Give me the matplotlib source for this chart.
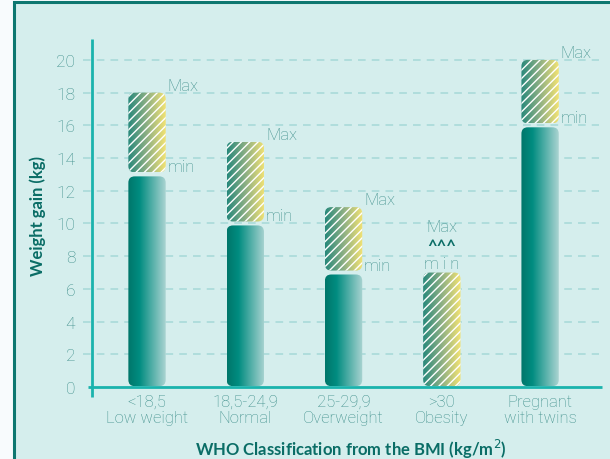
import matplotlib
matplotlib.use("Agg")
import matplotlib.pyplot as plt
import numpy as np
from matplotlib.colors import LinearSegmentedColormap
from matplotlib.patches import FancyBboxPatch, Rectangle

categories = ["<18,5\nLow weight", "18,5-24,9\nNormal", "25-29,9\nOverweight",
              ">30\nObesity", "Pregnant\nwith twins"]
gain_min = [13, 10, 7, 0, 16]
gain_max = [18, 15, 11, 7, 20]
y_ticks = list(range(0, 21, 2))

BG = "#d5eeed"
AXIS = "#1ab3ad"
GRID = "#a5d9d8"
LABEL = "#3f8f8b"
DARK = "#0a6d66"
THIN = ["Roboto", "DejaVu Sans"]

plt.rcParams["font.family"] = ["Lato", "DejaVu Sans"]
plt.rcParams["hatch.linewidth"] = 1.0

solid_cmap = LinearSegmentedColormap.from_list(
    "solid", [(0, "#00766a"), (0.3, "#008c80"), (1, "#abd4d2")])
hatch_cmap = LinearSegmentedColormap.from_list(
    "hatch", [(0, "#27887b"), (0.5, "#8eb084"), (1, "#f3e373")])

fig = plt.figure(figsize=(6.1, 4.6), dpi=100)
fig.patch.set_facecolor("#f8fbfd")
bg = Rectangle((13.5 / 610, -0.05), 1.1, 1.05 - 2.5 / 460,
               transform=fig.transFigure, facecolor=BG,
               edgecolor="#0e7770", linewidth=2.2, zorder=-10)
fig.add_artist(bg)

ax = fig.add_axes([92 / 610, 1 - 388 / 460, 510 / 610, 348 / 460])
ax.set_facecolor("none")
for s in ax.spines.values():
    s.set_visible(False)

x = np.arange(len(categories))
xlim = (-0.56, 4.63)
ylim = (0, 21.28)
w = 0.38
gap = 0.12
grad = np.linspace(0, 1, 256).reshape(1, -1)
box = "round,pad=0,rounding_size=0.065"


def draw_bar(x0, y0, y1, cmap, hatch=False):
    patch = FancyBboxPatch((x0 - w / 2, y0), w, y1 - y0, boxstyle=box,
                           mutation_aspect=6, facecolor="none",
                           edgecolor="none", zorder=3)
    ax.add_patch(patch)
    im = ax.imshow(grad, cmap=cmap, aspect="auto", zorder=3,
                   extent=(x0 - w / 2, x0 + w / 2, y0, y1))
    im.set_clip_path(patch)
    if hatch:
        hp = FancyBboxPatch((x0 - w / 2, y0), w, y1 - y0, boxstyle=box,
                            mutation_aspect=6, facecolor="none",
                            edgecolor="white", linewidth=0, hatch="////",
                            zorder=4)
        ax.add_patch(hp)


# grid lines
for yv in y_ticks[1:]:
    ax.plot([-0.65, 4.6], [yv, yv], color=GRID, lw=1.1,
            dashes=(5, 4), clip_on=False, zorder=1)

txt = dict(color=LABEL, fontsize=12, family=THIN, fontweight="light", zorder=5)
for i in range(len(categories)):
    lo, hi = gain_min[i], gain_max[i]
    if lo > 0:
        draw_bar(x[i], 0.05, lo - gap, solid_cmap)
        draw_bar(x[i], lo + gap, hi, hatch_cmap, hatch=True)
        ax.text(x[i] + w / 2 + 0.02, hi, "Max", ha="left", va="bottom", **txt)
        ax.text(x[i] + w / 2 + 0.02, lo, "min", ha="left", va="bottom", **txt)
    else:
        draw_bar(x[i], 0.05, hi, hatch_cmap, hatch=True)
        ax.text(x[i], hi + 2.8, "Max", ha="center", va="center", **txt)
        ax.text(x[i], hi + 1.6, "^^^", color=DARK, fontsize=12,
                fontweight="bold", ha="center", va="center", zorder=5)
        ax.text(x[i], hi + 0.55, "m i n", ha="center", va="center", **txt)

# axes lines
ax.plot([xlim[0], xlim[0]], [-0.6, ylim[1]], color=AXIS, lw=2,
        clip_on=False, zorder=6, solid_capstyle="butt")
ax.plot([-0.6, xlim[1]], [0, 0], color=AXIS, lw=2, clip_on=False, zorder=6,
        solid_capstyle="butt")

ax.set_xlim(*xlim)
ax.set_ylim(*ylim)
ax.set_yticks(y_ticks)
ax.set_yticklabels([str(v) for v in y_ticks], color=LABEL, fontsize=12.5,
                   family=THIN, fontweight="light")
ax.set_xticks(x)
ax.set_xticklabels(categories, color=LABEL, fontsize=12, family=THIN,
                   fontweight="light", linespacing=1.1)
ax.tick_params(axis="y", length=0, pad=12)
ax.tick_params(axis="x", length=0, pad=5)

fig.text(38 / 610, 1 - 216 / 460, "Weight gain (kg)", rotation=90,
         color=DARK, fontsize=12, fontweight="bold", ha="center", va="center")
fig.text(351 / 610, 1 - 449 / 460, "WHO Classification from the BMI (kg/m$^2$)",
         color=DARK, fontsize=12, fontweight="bold", ha="center", va="center")

fig.savefig("out.png", dpi=100, facecolor=fig.get_facecolor())
